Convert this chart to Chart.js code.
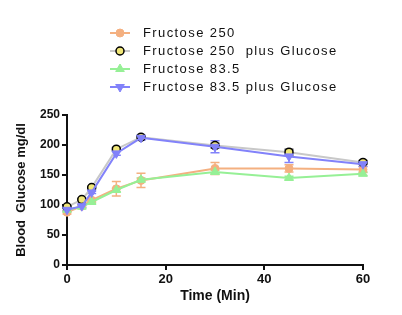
<!DOCTYPE html>
<html>
<head>
<meta charset="utf-8">
<script src="https://cdn.jsdelivr.net/npm/chart.js@4/dist/chart.umd.min.js"></script>
<style>
html,body{margin:0;padding:0;background:#fff;}
#wrap{width:402px;height:315px;position:relative;}
</style>
</head>
<body>
<div id="wrap"><canvas id="c" width="402" height="315"></canvas></div>
<script>
const timeMin = [0, 3, 5, 10, 15, 30, 45, 60];
const seriesNames = ["Fructose 250", "Fructose 250  plus Glucose", "Fructose 83.5", "Fructose 83.5 plus Glucose"];
const fru250 = [88, 98, 108, 127, 141, 161, 161, 159];
const fru250Err = [3, 3, 3, 12, 12, 10, 6, 5];
const fru250Glu = [97, 109, 129, 193, 213, 199, 188, 171];
const fru250GluErr = [2, 2, 2, 3, 3, 4, 5, 3];
const fru83 = [92, 97, 105, 125, 142, 155, 145, 152];
const fru83Err = [2, 2, 2, 3, 3, 3, 3, 3];
const fru83Glu = [92, 98, 121, 186, 212, 197, 181, 168];
const fru83GluErr = [2, 2, 2, 3, 4, 10, 10, 4];
const yTicks = [0, 50, 100, 150, 200, 250];
const xTicks = [0, 20, 40, 60];

const toXY = (vals) => vals.map((v, i) => ({x: timeMin[i], y: v}));

const styles = [
  {line: 'rgb(244,176,128)', fill: 'rgb(244,176,128)', border: 'rgb(244,176,128)', shape: 'circle', rot: 0, r: 4},
  {line: 'rgb(200,200,200)', fill: 'rgb(240,230,120)', border: '#000', shape: 'circle', rot: 0, r: 4},
  {line: 'rgb(150,240,150)', fill: 'rgb(150,240,150)', border: 'rgb(150,240,150)', shape: 'triangle', rot: 0, r: 5},
  {line: 'rgb(130,130,250)', fill: 'rgb(130,130,250)', border: 'rgb(130,130,250)', shape: 'triangle', rot: 180, r: 5}
];
const errColors = ['rgb(244,176,128)', 'rgb(80,80,80)', 'rgb(150,240,150)', 'rgb(130,130,250)'];
const values = [fru250, fru250Glu, fru83, fru83Glu];
const errs = [fru250Err, fru250GluErr, fru83Err, fru83GluErr];
const orders = [3, 1, 2, 0];

const datasets = values.map((v, i) => ({
  label: seriesNames[i],
  data: toXY(v),
  borderColor: styles[i].line,
  backgroundColor: styles[i].fill,
  pointBackgroundColor: styles[i].fill,
  pointBorderColor: styles[i].border,
  pointBorderWidth: i === 1 ? 1.5 : 1,
  pointStyle: styles[i].shape,
  pointRotation: styles[i].rot,
  pointRadius: styles[i].r,
  borderWidth: 2,
  tension: 0,
  clip: false,
  order: orders[i],
  errs: errs[i],
  errColor: errColors[i]
}));

const errorBarPlugin = {
  id: 'errbars',
  beforeDatasetsDraw(chart) {
    const ctx = chart.ctx;
    const xs = chart.scales.x, ys = chart.scales.y;
    chart.data.datasets.forEach((ds) => {
      ctx.save();
      ctx.strokeStyle = ds.errColor;
      ctx.lineWidth = 1.5;
      ds.data.forEach((p, j) => {
        const e = ds.errs[j];
        if (!e) return;
        const px = xs.getPixelForValue(p.x);
        const top = ys.getPixelForValue(p.y + e);
        const bot = ys.getPixelForValue(p.y - e);
        ctx.beginPath();
        ctx.moveTo(px, top); ctx.lineTo(px, bot);
        ctx.moveTo(px - 4.5, top); ctx.lineTo(px + 4.5, top);
        ctx.moveTo(px - 4.5, bot); ctx.lineTo(px + 4.5, bot);
        ctx.stroke();
      });
      ctx.restore();
    });
  }
};

const legendPlugin = {
  id: 'customLegend',
  afterDraw(chart) {
    const ctx = chart.ctx;
    const rowsY = [33, 51, 69, 87];
    chart.data.datasets.forEach((ds, i) => {
      const y = rowsY[i];
      ctx.save();
      ctx.strokeStyle = ds.borderColor;
      ctx.lineWidth = 2;
      ctx.beginPath();
      ctx.moveTo(110, y); ctx.lineTo(130, y);
      ctx.stroke();
      ctx.fillStyle = ds.pointBackgroundColor;
      ctx.strokeStyle = ds.pointBorderColor;
      ctx.lineWidth = ds.pointBorderWidth;
      Chart.helpers.drawPoint(ctx, {pointStyle: ds.pointStyle, rotation: ds.pointRotation, radius: ds.pointRadius, borderWidth: ds.pointBorderWidth}, 120, y);
      ctx.fillStyle = '#111';
      ctx.font = '13px "Liberation Sans", Arial, sans-serif';
      try { ctx.letterSpacing = '1.4px'; } catch (e) {}
      ctx.textBaseline = 'middle';
      ctx.textAlign = 'left';
      ctx.fillText(ds.label, 143, y);
      ctx.restore();
    });
  }
};

new Chart(document.getElementById('c'), {
  type: 'line',
  data: {datasets},
  plugins: [errorBarPlugin, legendPlugin],
  options: {
    responsive: false,
    animation: false,
    devicePixelRatio: 1,
    layout: {padding: {top: 115, right: 39, left: 14, bottom: 10}},
    plugins: {legend: {display: false}, tooltip: {enabled: false}},
    scales: {
      x: {
        type: 'linear', min: 0, max: 60,
        afterBuildTicks(s) { s.ticks = xTicks.map(v => ({value: v})); },
        afterFit(s) { s.height = 40; },
        ticks: {color: '#111', font: {family: '"Liberation Sans", Arial, sans-serif', size: 13, weight: 'bold'}, padding: 2, maxRotation: 0},
        grid: {display: true, drawOnChartArea: false, drawTicks: true, tickLength: 5, color: '#111', lineWidth: 2},
        border: {display: true, color: '#111', width: 2},
        title: {display: true, text: 'Time (Min)', color: '#111', font: {family: '"Liberation Sans", Arial, sans-serif', size: 14, weight: 'bold'}, padding: {top: 2, bottom: 0}}
      },
      y: {
        min: 0, max: 250,
        afterBuildTicks(s) { s.ticks = yTicks.map(v => ({value: v})); },
        afterFit(s) { s.width = 53; },
        ticks: {color: '#111', font: {family: '"Liberation Sans", Arial, sans-serif', size: 12, weight: 'bold'}, padding: 2},
        grid: {display: true, drawOnChartArea: false, drawTicks: true, tickLength: 5, color: '#111', lineWidth: 2},
        border: {display: true, color: '#111', width: 2},
        title: {display: true, text: 'Blood  Glucose mg/dl', color: '#111', font: {family: '"Liberation Sans", Arial, sans-serif', size: 13, weight: 'bold'}, padding: {top: 0, bottom: 4}}
      }
    }
  }
});
</script>
</body>
</html>
